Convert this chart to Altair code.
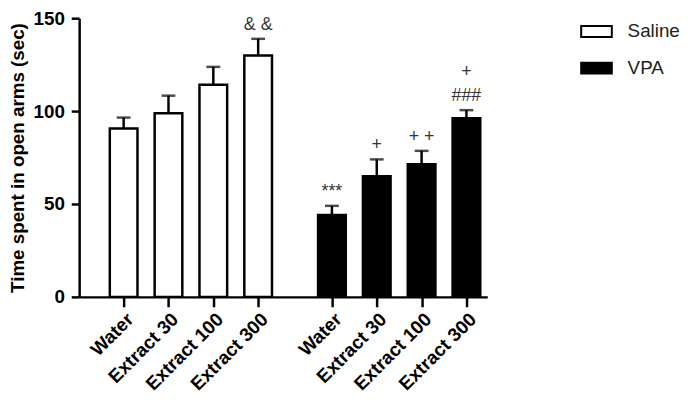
import json
import altair as alt
import pandas as pd

# ---- data ----
groups = ["Saline", "VPA"]
doses = ["Water", "Extract 30", "Extract 100", "Extract 300"]
saline_mean = [90.6, 98.8, 114.2, 129.9]
saline_err = [96.5, 108.3, 123.8, 138.9]
vpa_mean = [44.1, 64.9, 71.4, 96.2]
vpa_err = [49.0, 74.0, 78.6, 100.5]
saline_sig = ["", "", "", "& &"]
vpa_sig = ["***", "+", "+ +", "###"]
saline_sig_top = ["", "", "", ""]
vpa_sig_top = ["", "", "", "+"]

GAP = 4.645  # x offset of the second group (category slots)

rows = []
for gi, (g, means, errs, sigs, tops) in enumerate(
    [
        ("Saline", saline_mean, saline_err, saline_sig, saline_sig_top),
        ("VPA", vpa_mean, vpa_err, vpa_sig, vpa_sig_top),
    ]
):
    for i, d in enumerate(doses):
        rows.append(
            {
                "group": g,
                "dose": d,
                "pos": i + gi * GAP,
                "mean": means[i],
                "err": errs[i],
                "sig": sigs[i],
                "sig_top": tops[i],
            }
        )
df = pd.DataFrame(rows)
tick_values = list(df["pos"])

FONT = "Liberation Sans"
label_expr = f"{json.dumps(doses)}[round(datum.value < 4 ? datum.value : datum.value - {GAP})]"

x = alt.X(
    "pos:Q",
    scale=alt.Scale(domain=[-0.882, 8.0], nice=False, zero=False),
    axis=alt.Axis(
        values=tick_values,
        labelExpr=label_expr,
        title=None,
        labelAngle=-45,
        labelAlign="right",
        labelBaseline="top",
        labelFont=FONT,
        labelFontWeight="bold",
        labelFontSize=19,
        labelColor="black",
        labelPadding=3,
        tickSize=10,
        tickWidth=2.5,
        tickColor="black",
        domainColor="black",
        domainWidth=2.5,
        grid=False,
        labelOverlap=False,
    ),
)
y = alt.Y(
    "mean:Q",
    scale=alt.Scale(domain=[0, 150], nice=False),
    axis=alt.Axis(
        values=[0, 50, 100, 150],
        title="Time spent in open arms (sec)",
        titleFont=FONT,
        titleFontWeight="bold",
        titleFontSize=19,
        titleColor="black",
        titlePadding=6,
        labelFont=FONT,
        labelFontWeight="bold",
        labelFontSize=19,
        labelColor="black",
        labelPadding=7,
        tickSize=8,
        tickWidth=2.5,
        tickColor="black",
        domainColor="black",
        domainWidth=2.5,
        grid=False,
    ),
)

base = alt.Chart(df)

bars = base.mark_bar(size=28, stroke="black", strokeWidth=2.5).encode(
    x=x,
    y=y,
    fill=alt.Fill(
        "group:N",
        scale=alt.Scale(domain=groups, range=["white", "black"]),
        legend=alt.Legend(
            title=None,
            orient="none",
            legendX=507,
            legendY=-3,
            symbolType="M-1,-0.355H1V0.355H-1Z",
            symbolSize=961,
            symbolStrokeColor="black",
            symbolStrokeWidth=2,
            labelFont=FONT,
            labelFontSize=19,
            labelColor="#222222",
            labelOffset=15,
            rowPadding=10,
            padding=0,
        ),
    ),
)

err_line = base.mark_rule(color="black", strokeWidth=2.5).encode(
    x="pos:Q", y="mean:Q", y2="err:Q"
)
err_cap = base.mark_tick(color="black", orient="horizontal", size=14, thickness=2.5).encode(
    x="pos:Q", y="err:Q"
)
sig = base.mark_text(
    baseline="bottom", dy=-5, font=FONT, fontSize=18, color="#333333"
).encode(x="pos:Q", y="err:Q", text="sig:N")
sig_top = base.mark_text(
    baseline="bottom", dy=-30, font=FONT, fontSize=18, color="#333333"
).encode(x="pos:Q", y="err:Q", text="sig_top:N")

chart = (
    alt.layer(bars, err_line, err_cap, sig, sig_top)
    .properties(
        width=413,
        height=282,
        autosize="none",
        padding={"left": 72, "top": 8, "right": 195, "bottom": 99},
    )
    .configure_view(stroke=None)
)

chart.save("out.html", embed_options={"renderer": "svg", "actions": False})
